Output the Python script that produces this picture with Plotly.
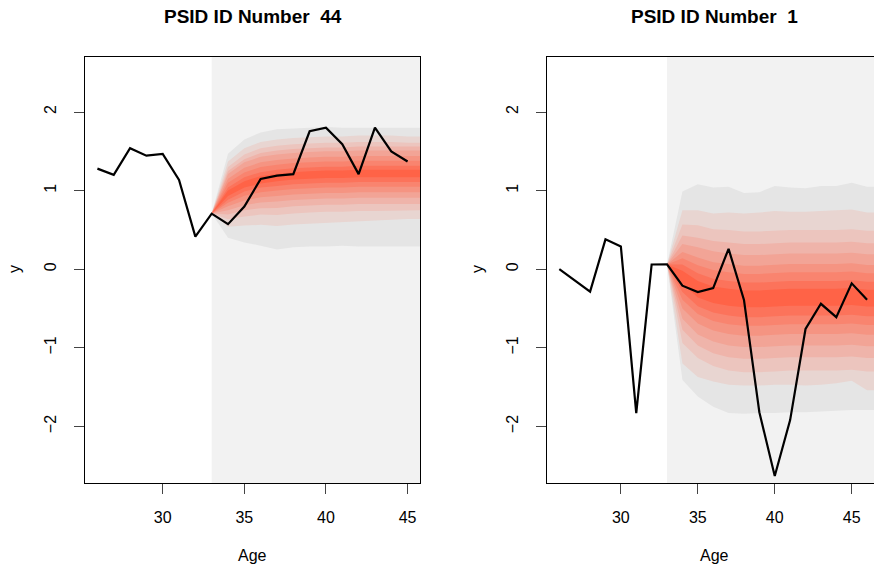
import plotly.graph_objects as go

# ---------------- data ----------------
# Panel 1: PSID ID Number 44
ages_1 = [26, 27, 28, 29, 30, 31, 32, 33, 34, 35, 36, 37, 38, 39, 40, 41, 42, 43, 44, 45]
y_1 = [1.28, 1.20, 1.54, 1.445, 1.467, 1.136, 0.415, 0.707, 0.573, 0.797, 1.149, 1.19,
       1.21, 1.755, 1.80, 1.59, 1.21, 1.80, 1.50, 1.37]
fan_ages_1 = [33, 34, 35, 36, 37, 38, 39, 40, 41, 42, 43, 44, 45, 46]
fan_upper_1 = [  # inner (u1) -> outer (u9)
    [0.71, 1.00, 1.12, 1.185, 1.215, 1.235, 1.245, 1.255, 1.255, 1.265, 1.265, 1.265, 1.265, 1.265],
    [0.71, 1.04, 1.17, 1.235, 1.265, 1.285, 1.295, 1.305, 1.305, 1.315, 1.315, 1.315, 1.315, 1.315],
    [0.71, 1.10, 1.23, 1.30, 1.33, 1.35, 1.36, 1.37, 1.37, 1.38, 1.38, 1.38, 1.38, 1.38],
    [0.71, 1.15, 1.29, 1.36, 1.39, 1.41, 1.42, 1.43, 1.43, 1.44, 1.44, 1.44, 1.44, 1.44],
    [0.71, 1.21, 1.36, 1.43, 1.46, 1.48, 1.49, 1.50, 1.50, 1.51, 1.51, 1.51, 1.51, 1.51],
    [0.71, 1.25, 1.40, 1.48, 1.51, 1.53, 1.54, 1.55, 1.55, 1.56, 1.56, 1.56, 1.56, 1.56],
    [0.71, 1.30, 1.46, 1.54, 1.57, 1.59, 1.60, 1.61, 1.61, 1.62, 1.62, 1.62, 1.61, 1.61],
    [0.71, 1.37, 1.54, 1.62, 1.65, 1.67, 1.68, 1.69, 1.69, 1.70, 1.70, 1.70, 1.69, 1.69],
    [0.71, 1.47, 1.65, 1.74, 1.78, 1.79, 1.80, 1.81, 1.80, 1.80, 1.80, 1.80, 1.80, 1.80],
]
fan_lower_1 = [  # inner (l1) -> outer (l9)
    [0.71, 0.93, 1.04, 1.09, 1.12, 1.14, 1.15, 1.16, 1.16, 1.17, 1.17, 1.17, 1.17, 1.17],
    [0.71, 0.885, 0.99, 1.04, 1.06, 1.08, 1.09, 1.10, 1.10, 1.11, 1.11, 1.11, 1.11, 1.11],
    [0.71, 0.845, 0.935, 0.98, 1.00, 1.02, 1.03, 1.04, 1.04, 1.05, 1.05, 1.05, 1.05, 1.05],
    [0.71, 0.80, 0.875, 0.915, 0.93, 0.95, 0.96, 0.97, 0.97, 0.98, 0.98, 0.98, 0.98, 0.98],
    [0.71, 0.75, 0.815, 0.85, 0.86, 0.88, 0.89, 0.90, 0.90, 0.91, 0.91, 0.91, 0.91, 0.91],
    [0.71, 0.695, 0.75, 0.775, 0.78, 0.80, 0.81, 0.82, 0.82, 0.83, 0.83, 0.83, 0.83, 0.83],
    [0.71, 0.635, 0.67, 0.695, 0.69, 0.71, 0.72, 0.73, 0.73, 0.74, 0.74, 0.745, 0.75, 0.75],
    [0.71, 0.54, 0.555, 0.565, 0.55, 0.57, 0.58, 0.59, 0.60, 0.61, 0.62, 0.63, 0.64, 0.64],
    [0.71, 0.40, 0.34, 0.30, 0.25, 0.28, 0.29, 0.29, 0.30, 0.29, 0.29, 0.29, 0.29, 0.29],
]

# Panel 2: PSID ID Number 1
ages_2 = [26, 27, 28, 29, 30, 31, 32, 33, 34, 35, 36, 37, 38, 39, 40, 41, 42, 43, 44, 45, 46]
y_2 = [0.0, -0.14, -0.285, 0.38, 0.29, -1.83, 0.06, 0.063, -0.21, -0.29, -0.24, 0.26,
       -0.39, -1.82, -2.63, -1.92, -0.76, -0.44, -0.61, -0.18, -0.39]
fan_ages_2 = [33, 34, 35, 36, 37, 38, 39, 40, 41, 42, 43, 44, 45, 46, 47]
fan_upper_2 = [
    [0.06, -0.02, -0.15, -0.22, -0.25, -0.27, -0.27, -0.26, -0.25, -0.25, -0.25, -0.25, -0.24, -0.26, -0.26],
    [0.06, 0.06, -0.05, -0.12, -0.15, -0.17, -0.17, -0.16, -0.15, -0.15, -0.15, -0.15, -0.14, -0.16, -0.16],
    [0.06, 0.14, 0.05, -0.01, -0.04, -0.06, -0.06, -0.05, -0.04, -0.04, -0.04, -0.04, -0.03, -0.05, -0.05],
    [0.06, 0.22, 0.15, 0.09, 0.065, 0.045, 0.045, 0.055, 0.065, 0.065, 0.065, 0.065, 0.075, 0.055, 0.055],
    [0.06, 0.32, 0.28, 0.23, 0.20, 0.18, 0.18, 0.19, 0.20, 0.20, 0.20, 0.20, 0.21, 0.19, 0.19],
    [0.06, 0.43, 0.40, 0.36, 0.34, 0.32, 0.32, 0.33, 0.34, 0.34, 0.34, 0.34, 0.35, 0.33, 0.33],
    [0.06, 0.57, 0.56, 0.51, 0.50, 0.48, 0.48, 0.49, 0.50, 0.50, 0.50, 0.50, 0.51, 0.49, 0.49],
    [0.06, 0.75, 0.75, 0.71, 0.72, 0.71, 0.72, 0.74, 0.73, 0.73, 0.74, 0.75, 0.76, 0.72, 0.72],
    [0.06, 0.99, 1.08, 1.04, 1.05, 0.97, 0.98, 1.06, 1.04, 1.03, 1.06, 1.06, 1.10, 1.05, 1.05],
]
fan_lower_2 = [
    [0.06, -0.18, -0.36, -0.43, -0.465, -0.485, -0.485, -0.475, -0.465, -0.465, -0.465, -0.465, -0.455, -0.475, -0.475],
    [0.06, -0.29, -0.47, -0.55, -0.59, -0.61, -0.61, -0.60, -0.59, -0.59, -0.59, -0.59, -0.58, -0.60, -0.60],
    [0.06, -0.39, -0.57, -0.66, -0.70, -0.72, -0.72, -0.71, -0.70, -0.70, -0.70, -0.70, -0.69, -0.71, -0.71],
    [0.06, -0.50, -0.69, -0.78, -0.825, -0.845, -0.845, -0.835, -0.825, -0.825, -0.825, -0.825, -0.815, -0.835, -0.835],
    [0.06, -0.63, -0.83, -0.92, -0.97, -0.99, -0.99, -0.98, -0.97, -0.97, -0.97, -0.97, -0.96, -0.98, -0.98],
    [0.06, -0.77, -0.97, -1.07, -1.12, -1.14, -1.14, -1.13, -1.12, -1.12, -1.12, -1.12, -1.11, -1.13, -1.13],
    [0.06, -0.94, -1.13, -1.23, -1.29, -1.31, -1.31, -1.30, -1.29, -1.29, -1.29, -1.29, -1.28, -1.30, -1.30],
    [0.06, -1.20, -1.37, -1.43, -1.47, -1.48, -1.48, -1.47, -1.47, -1.48, -1.47, -1.45, -1.42, -1.54, -1.54],
    [0.06, -1.41, -1.62, -1.75, -1.83, -1.84, -1.83, -1.83, -1.82, -1.82, -1.81, -1.80, -1.79, -1.79, -1.79],
]

titles = ["PSID ID Number  44", "PSID ID Number  1"]
x_ticks = [30, 35, 40, 45]
y_ticks = [-2, -1, 0, 1, 2]
forecast_start = 33

# ---------------- style ----------------
fan_colors = ["#FF6347", "#FC735B", "#F9846F", "#F59482", "#F2A496",
              "#EFB4AA", "#ECC5BE", "#E8D5D1", "#E5E5E5"]  # inner -> outer
FONT = "Liberation Sans"
W, H = 874, 567
y_range = [-2.72, 2.70]
x_range_1 = [25.24, 45.76]
x_range_2 = [25.2, 46.45]

fig = go.Figure()


def add_panel(xa, ya, ages, yv, fan_ages, ups, los):
    for k in range(len(ups) - 1, -1, -1):
        fig.add_trace(go.Scatter(
            x=fan_ages + fan_ages[::-1],
            y=ups[k] + los[k][::-1],
            fill="toself", fillcolor=fan_colors[k],
            mode="lines", line=dict(width=0, color=fan_colors[k]),
            hoverinfo="skip", showlegend=False, xaxis=xa, yaxis=ya))
    fig.add_trace(go.Scatter(
        x=ages, y=yv, mode="lines", line=dict(color="black", width=2.2),
        showlegend=False, xaxis=xa, yaxis=ya))


add_panel("x", "y", ages_1, y_1, fan_ages_1, fan_upper_1, fan_lower_1)
add_panel("x2", "y2", ages_2, y_2, fan_ages_2, fan_upper_2, fan_lower_2)

axis_common = dict(showgrid=False, zeroline=False, ticks="outside", ticklen=10,
                   tickcolor="#444", tickwidth=1, showline=True, linecolor="black",
                   linewidth=1, tickfont=dict(family=FONT, size=16, color="black"))

d1 = [85 / W, 420 / W]
d2 = [547 / W, 1.0]
ydom = [1 - 483 / H, 1 - 57 / H]

fig.update_layout(
    width=W, height=H, margin=dict(l=0, r=0, t=0, b=0),
    paper_bgcolor="white", plot_bgcolor="white",
    xaxis=dict(domain=d1, range=x_range_1, tickvals=x_ticks, mirror=True,
               anchor="y", ticklabelstandoff=10, **axis_common),
    yaxis=dict(domain=ydom, range=y_range, tickvals=y_ticks, mirror=True,
               anchor="x", tickangle=-90, ticklabelstandoff=12, **axis_common),
    xaxis2=dict(domain=d2, range=x_range_2, tickvals=x_ticks, mirror=True,
                anchor="y2", ticklabelstandoff=10, **axis_common),
    yaxis2=dict(domain=ydom, range=y_range, tickvals=y_ticks, mirror=False,
                anchor="x2", tickangle=-90, ticklabelstandoff=12, **axis_common),
)

shapes = []
for xref, yref, xr in [("x", "y domain", x_range_1), ("x2", "y2 domain", x_range_2)]:
    shapes.append(dict(type="rect", xref=xref, yref=yref, x0=forecast_start, x1=xr[1],
                       y0=0, y1=1, fillcolor="#F2F2F2", line=dict(width=0), layer="below"))
fig.update_layout(shapes=shapes)

ann = []
centers = [252.5 / W, 714 / W]
for c, t in zip(centers, titles):
    ann.append(dict(text="<b>" + t + "</b>", x=c, y=1 - 17 / H, xref="paper", yref="paper",
                    showarrow=False, font=dict(family=FONT, size=19, color="black"),
                    xanchor="center", yanchor="middle"))
    ann.append(dict(text="Age", x=c, y=1 - 555 / H, xref="paper", yref="paper",
                    showarrow=False, font=dict(family=FONT, size=16, color="black"),
                    xanchor="center", yanchor="middle"))
for xp in [15 / W, 478 / W]:
    ann.append(dict(text="y", x=xp, y=1 - 269 / H, xref="paper", yref="paper",
                    showarrow=False, textangle=-90,
                    font=dict(family=FONT, size=16, color="black"),
                    xanchor="center", yanchor="middle"))
fig.update_layout(annotations=ann)

fig.write_html(
    "out.html",
    config={"displayModeBar": False},
    post_script="document.body.style.margin='0px';document.body.style.overflow='hidden';",
)
